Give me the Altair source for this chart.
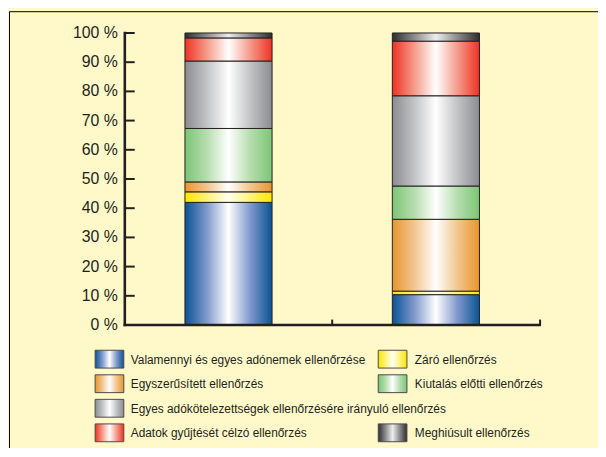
import altair as alt
import pandas as pd

categories = ["I", "II"]
series = [
    "Valamennyi és egyes adónemek ellenőrzése",
    "Záró ellenőrzés",
    "Egyszerűsített ellenőrzés",
    "Kiutalás előtti ellenőrzés",
    "Egyes adókötelezettségek ellenőrzésére irányuló ellenőrzés",
    "Adatok gyűjtését célzó ellenőrzés",
    "Meghiúsult ellenőrzés",
]
values_1 = [42.0, 3.6, 3.4, 18.3, 23.1, 7.9, 1.7]
values_2 = [10.4, 1.2, 24.6, 11.4, 30.9, 18.7, 2.8]
edge_colors = ["#0A5394", "#FFE400", "#E9962E", "#7CC576", "#8A8C8F", "#EE3224", "#2E2E2E"]
mid_colors = ["#7F98CC", "#FFF27A", "#F2C58E", "#B5DDAE", "#C2C3C5", "#F59A88", "#8A8A8A"]
center_colors = ["#FFFFFF", "#FFFFF0", "#FFFFFF", "#FFFFFF", "#FFFFFF", "#FFFFFF", "#EEEEEE"]
legend_col = [0, 1, 0, 1, 0, 0, 1]
legend_row = [0, 0, 1, 1, 2, 3, 3]
y_ticks = [0, 10, 20, 30, 40, 50, 60, 70, 80, 90, 100]

rows = []
for i, s in enumerate(series):
    rows.append({"cat": categories[0], "series": s, "order": i, "value": values_1[i]})
    rows.append({"cat": categories[1], "series": s, "order": i, "value": values_2[i]})
df = pd.DataFrame(rows)
one = pd.DataFrame({"k": [0]})
ticks_df = pd.DataFrame({"t": y_ticks})

W, H = 419, 295
INK = "#231F20"
FONT = "Liberation Sans"


def grad(i):
    return alt.LinearGradient(
        gradient="linear",
        x1=0, x2=1, y1=0, y2=0,
        stops=[
            alt.GradientStop(offset=0, color=edge_colors[i]),
            alt.GradientStop(offset=0.25, color=mid_colors[i]),
            alt.GradientStop(offset=0.5, color=center_colors[i]),
            alt.GradientStop(offset=0.75, color=mid_colors[i]),
            alt.GradientStop(offset=1, color=edge_colors[i]),
        ],
    )


x_enc = alt.X(
    "cat:N",
    scale=alt.Scale(domain=categories, paddingInner=0, paddingOuter=0),
    axis=alt.Axis(labels=False, title=None, domain=False, grid=False, ticks=True,
                  tickSize=6, tickWidth=2, tickColor=INK, offset=-6, bandPosition=1),
)
y_scale = alt.Scale(domain=[0, 100], nice=False)
y_enc = alt.Y("y0:Q", scale=y_scale, axis=None)

base = alt.Chart(df).transform_stack(
    stack="value", groupby=["cat"], as_=["y0", "y1"],
    sort=[alt.SortField("order", order="ascending")],
)

layers = []
for i in range(len(series)):
    layers.append(
        base.transform_filter(alt.datum.order == i)
        .mark_bar(fill=grad(i), stroke=INK, strokeWidth=1, width=88)
        .encode(x=x_enc, y=y_enc, y2="y1:Q")
    )

# y axis: ticks pointing inward and labels, drawn through the y scale
layers.append(
    alt.Chart(ticks_df).mark_rule(color=INK, strokeWidth=2)
    .encode(y=alt.Y("t:Q", scale=y_scale, axis=None), x=alt.value(0), x2=alt.value(10))
)
layers.append(
    alt.Chart(ticks_df)
    .transform_calculate(label="datum.t + ' %'")
    .mark_text(align="right", baseline="middle", font=FONT, fontSize=16, color=INK)
    .encode(y=alt.Y("t:Q", scale=y_scale, axis=None), x=alt.value(-7), text="label:N")
)

# axis lines
layers.append(
    alt.Chart(one).mark_rule(color=INK, strokeWidth=2.6, strokeCap="square")
    .encode(x=alt.value(0), y=alt.Y(datum=0, scale=y_scale, axis=None), y2=alt.datum(100))
)
layers.append(
    alt.Chart(one).mark_rule(color=INK, strokeWidth=2.6, strokeCap="square")
    .encode(x=alt.value(0), x2=alt.value(W), y=alt.Y(datum=0, scale=y_scale, axis=None))
)

# custom legend
sw_x = [-30, 256]
tx_x = [6, 293]
row_y0, row_step = 329.5, 24.8
for i, s in enumerate(series):
    cy = row_y0 + legend_row[i] * row_step
    sx = sw_x[legend_col[i]]
    layers.append(
        alt.Chart(one).mark_rect(fill=grad(i), stroke="#4A4A4A", strokeWidth=1)
        .encode(x=alt.value(sx), x2=alt.value(sx + 29), y=alt.value(cy - 9), y2=alt.value(cy + 9))
    )
    layers.append(
        alt.Chart(one).mark_text(text=s, align="left", baseline="middle", font=FONT,
                                 fontSize=12, color=INK)
        .encode(x=alt.value(tx_x[legend_col[i]]), y=alt.value(cy + 0.5))
    )

PAD_L, PAD_T = 118, 23
# outer frame (top/left visible)
layers.append(
    alt.Chart(one).mark_rect(fill=None, stroke="#000000", strokeWidth=1)
    .encode(x=alt.value(-PAD_L + 1.5), x2=alt.value(W + 200), y=alt.value(-PAD_T + 1.5), y2=alt.value(H + 200))
)

TOTAL_W, TOTAL_H = 596, 440
chart = alt.layer(*layers).properties(
    width=W, height=H,
    autosize=alt.AutoSizeParams(type="none"),
    padding={"left": PAD_L, "top": PAD_T, "right": TOTAL_W - PAD_L - W, "bottom": TOTAL_H - PAD_T - H},
    background="#FFF9CA",
).configure_view(stroke=None)

chart.save("out.html", embed_options={"renderer": "svg", "actions": False})
